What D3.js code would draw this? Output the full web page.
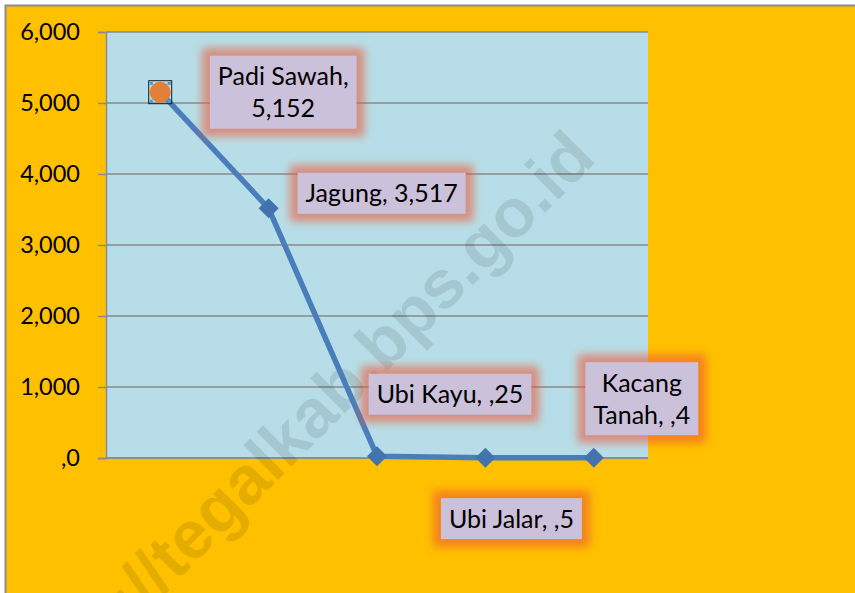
<!DOCTYPE html>
<html>
<head>
<meta charset="utf-8">
<script src="https://cdn.jsdelivr.net/npm/d3@7"></script>
<style>
  body { margin: 0; background: #ffffff; }
  svg { display: block; font-family: "Lato", "Open Sans", sans-serif; }
</style>
</head>
<body>
<div id="chart"></div>
<script>
// data
var categories = ["Padi Sawah", "Jagung", "Ubi Kayu", "Ubi Jalar", "Kacang Tanah"];
var values = [5152, 3517, 25, 5, 4];
var yTicks = [0, 1000, 2000, 3000, 4000, 5000, 6000];
var watermark = "http://tegalkab.bps.go.id";

// label box placement relative to its point (layout only)
var labelOffsets = [[123, 0], [113, -15], [73, -62], [26, 61], [48, -59]];
var labelWrap = [true, false, false, false, true];

var svgWidth = 855;
var svgHeight = 593;

var plot = { left: 106, right: 648, top: 32, bottom: 458 };

var svg = d3.select("#chart")
    .append("svg")
    .attr("width", svgWidth)
    .attr("height", svgHeight);

var defs = svg.append("defs");
defs.append("filter")
    .attr("id", "glow")
    .attr("x", "-40%").attr("y", "-80%")
    .attr("width", "180%").attr("height", "260%")
    .append("feGaussianBlur")
    .attr("stdDeviation", 4);

// number format used by the chart (",0" for zero, ",25" for small ones)
function fmt(v) {
    return v >= 1000 ? d3.format(",")(v) : "," + v;
}

// chart area
svg.append("rect")
    .attr("x", 5.5)
    .attr("y", 5.5)
    .attr("width", 900)
    .attr("height", 700)
    .attr("fill", "#FFC000")
    .attr("stroke", "#8C8C8C")
    .attr("stroke-width", 2);

// plot area
svg.append("rect")
    .attr("x", plot.left)
    .attr("y", plot.top)
    .attr("width", plot.right - plot.left)
    .attr("height", plot.bottom - plot.top)
    .attr("fill", "#B7DEE8");

var xScale = d3.scalePoint()
    .domain(categories)
    .range([plot.left, plot.right])
    .padding(0.5);

var yScale = d3.scaleLinear()
    .domain([0, 6000])
    .range([plot.bottom, plot.top]);

// gridlines
svg.append("g")
    .selectAll("line")
    .data(yTicks)
    .enter()
    .append("line")
    .attr("x1", plot.left)
    .attr("x2", plot.right)
    .attr("y1", d => yScale(d))
    .attr("y2", d => yScale(d))
    .attr("stroke", "#8A8A8A")
    .attr("stroke-width", 1.5);

// y axis
var leftAxis = d3.axisLeft(yScale)
    .tickValues(yTicks)
    .tickSize(8)
    .tickPadding(18)
    .tickFormat(fmt);

var yAxis = svg.append("g")
    .attr("transform", `translate(${plot.left}, 0)`)
    .call(leftAxis);

yAxis.select(".domain").attr("stroke", "#8A8A8A").attr("stroke-width", 1.5);
yAxis.selectAll(".tick line").attr("stroke", "#8A8A8A").attr("stroke-width", 1.5);
yAxis.selectAll(".tick text")
    .attr("font-family", "Lato, sans-serif")
    .attr("font-size", 23.5)
    .attr("fill", "#000");

// bottom axis line
svg.append("line")
    .attr("x1", plot.left)
    .attr("x2", plot.right)
    .attr("y1", plot.bottom)
    .attr("y2", plot.bottom)
    .attr("stroke", "#8A8A8A")
    .attr("stroke-width", 1.5);

// watermark
svg.append("text")
    .attr("transform", "translate(598, 160) rotate(-45)")
    .attr("text-anchor", "end")
    .attr("font-family", "Liberation Sans, Arial, sans-serif")
    .attr("font-weight", "bold")
    .attr("font-size", 68)
    .attr("fill", "rgba(0,0,0,0.1)")
    .text(watermark);

var points = categories.map((c, i) => ({ name: c, value: values[i] }));

// line
var line = d3.line()
    .x(d => xScale(d.name))
    .y(d => yScale(d.value));

svg.append("path")
    .datum(points)
    .attr("d", line)
    .attr("fill", "none")
    .attr("stroke", "#4A7EBB")
    .attr("stroke-width", 5.5)
    .attr("stroke-linejoin", "round");

// diamond markers (first point is the highlighted one)
svg.append("g")
    .selectAll("path")
    .data(points.slice(1))
    .enter()
    .append("path")
    .attr("d", d3.symbol().type(d3.symbolSquare).size(200))
    .attr("transform", d => `translate(${xScale(d.name)}, ${yScale(d.value)}) rotate(45)`)
    .attr("fill", "#4373AE");

// highlighted first point
var p0 = points[0];
var hx = xScale(p0.name);
var hy = yScale(p0.value);
svg.append("rect")
    .attr("x", hx - 11.5)
    .attr("y", hy - 11.5)
    .attr("width", 23)
    .attr("height", 23)
    .attr("fill", "none")
    .attr("stroke", "#1a1a1a")
    .attr("stroke-width", 1);
svg.append("circle")
    .attr("cx", hx)
    .attr("cy", hy)
    .attr("r", 10.5)
    .attr("fill", "#E2803A");
svg.append("g")
    .selectAll("circle")
    .data([[-1, -1], [1, -1], [-1, 1], [1, 1]])
    .enter()
    .append("circle")
    .attr("cx", d => hx + d[0] * 9)
    .attr("cy", d => hy + d[1] * 9)
    .attr("r", 1.8)
    .attr("fill", "#3FA0D8");

// data labels
var labels = svg.append("g")
    .selectAll("g")
    .data(points)
    .enter()
    .append("g")
    .attr("transform", (d, i) => `translate(${xScale(d.name) + labelOffsets[i][0]}, ${yScale(d.value) + labelOffsets[i][1]})`);

labels.each(function(d, i) {
    var g = d3.select(this);
    var lines;
    if (labelWrap[i]) {
        var words = d.name.split(" ");
        lines = d.name === "Kacang Tanah"
            ? [words[0], words[1] + ", " + fmt(d.value)]
            : [d.name + ",", fmt(d.value)];
    } else {
        lines = [d.name + ", " + fmt(d.value)];
    }
    var lineH = 32;
    var text = g.append("text")
        .attr("text-anchor", "middle")
        .attr("font-size", 25)
        .attr("fill", "#000");
    lines.forEach(function(t, k) {
        text.append("tspan")
            .attr("x", 0)
            .attr("y", (k - (lines.length - 1) / 2) * lineH + 9)
            .text(t);
    });
    var w = text.node().getBBox().width;
    var bw = w + 16;
    var bh = lines.length * lineH + 9;
    g.insert("rect", "text")
        .attr("x", -bw / 2 - 8)
        .attr("y", -bh / 2 - 8)
        .attr("width", bw + 16)
        .attr("height", bh + 16)
        .attr("rx", 4)
        .attr("fill", "rgba(238, 88, 50, 0.58)")
        .attr("filter", "url(#glow)");
    g.insert("rect", "text")
        .attr("x", -bw / 2)
        .attr("y", -bh / 2)
        .attr("width", bw)
        .attr("height", bh)
        .attr("fill", "#CCC1DA");
});
</script>
</body>
</html>
